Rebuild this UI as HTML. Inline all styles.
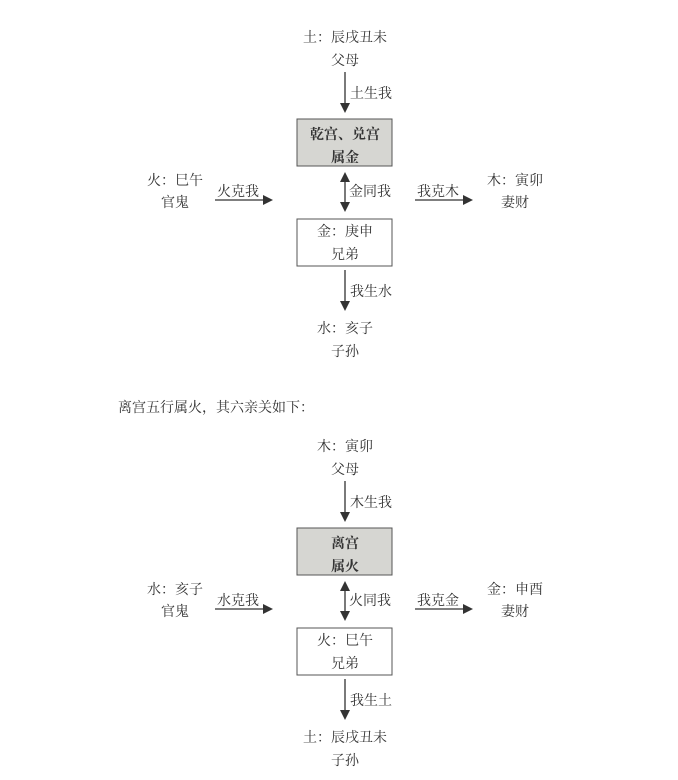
<!DOCTYPE html>
<html><head><meta charset="utf-8">
<style>
html,body{margin:0;padding:0;background:#fff;}
svg{display:block;}
text{font-family:"Noto Serif CJK SC","Liberation Serif","Noto Sans CJK SC",serif;font-size:14px;fill:#333;}
</style></head>
<body>
<svg width="678" height="780" viewBox="0 0 678 780" xmlns="http://www.w3.org/2000/svg">
<defs>
<g id="arrows" stroke="#333" stroke-width="1.3" fill="#333">
  <line x1="345" y1="72" x2="345" y2="104"/>
  <polygon points="340,103 350,103 345,113" stroke="none"/>
  <line x1="345" y1="180" x2="345" y2="204"/>
  <polygon points="340,182 350,182 345,172" stroke="none"/>
  <polygon points="340,202 350,202 345,212" stroke="none"/>
  <line x1="345" y1="270" x2="345" y2="302"/>
  <polygon points="340,301 350,301 345,311" stroke="none"/>
  <line x1="215" y1="200" x2="264" y2="200"/>
  <polygon points="263,195 263,205 273,200" stroke="none"/>
  <line x1="415" y1="200" x2="464" y2="200"/>
  <polygon points="463,195 463,205 473,200" stroke="none"/>
  <rect x="297" y="219" width="95" height="47" fill="#fff" stroke="#555" stroke-width="1"/>
</g>
</defs>

<rect x="297" y="119" width="95" height="47" fill="#d6d6d2" stroke="#555" stroke-width="1"/>
<use href="#arrows"/>
<text x="345" y="42" text-anchor="middle">土：辰戌丑未</text>
<text x="345" y="65" text-anchor="middle">父母</text>
<text x="350" y="98">土生我</text>
<text x="345" y="139" text-anchor="middle" font-weight="bold">乾宫、兑宫</text>
<text x="345" y="162" text-anchor="middle" font-weight="bold">属金</text>
<text x="349" y="196">金同我</text>
<text x="175" y="185" text-anchor="middle">火：巳午</text>
<text x="175" y="207" text-anchor="middle">官鬼</text>
<text x="217" y="196">火克我</text>
<text x="417" y="196">我克木</text>
<text x="515" y="185" text-anchor="middle">木：寅卯</text>
<text x="515" y="207" text-anchor="middle">妻财</text>
<text x="345" y="236" text-anchor="middle">金：庚申</text>
<text x="345" y="259" text-anchor="middle">兄弟</text>
<text x="350" y="296">我生水</text>
<text x="345" y="333" text-anchor="middle">水：亥子</text>
<text x="345" y="356" text-anchor="middle">子孙</text>

<text x="118" y="412">离宫五行属火，其六亲关如下：</text>

<g transform="translate(0,409)">
<rect x="297" y="119" width="95" height="47" fill="#d6d6d2" stroke="#555" stroke-width="1"/>
<use href="#arrows"/>
<text x="345" y="42" text-anchor="middle">木：寅卯</text>
<text x="345" y="65" text-anchor="middle">父母</text>
<text x="350" y="98">木生我</text>
<text x="345" y="139" text-anchor="middle" font-weight="bold">离宫</text>
<text x="345" y="162" text-anchor="middle" font-weight="bold">属火</text>
<text x="349" y="196">火同我</text>
<text x="175" y="185" text-anchor="middle">水：亥子</text>
<text x="175" y="207" text-anchor="middle">官鬼</text>
<text x="217" y="196">水克我</text>
<text x="417" y="196">我克金</text>
<text x="515" y="185" text-anchor="middle">金：申酉</text>
<text x="515" y="207" text-anchor="middle">妻财</text>
<text x="345" y="236" text-anchor="middle">火：巳午</text>
<text x="345" y="259" text-anchor="middle">兄弟</text>
<text x="350" y="296">我生土</text>
<text x="345" y="333" text-anchor="middle">土：辰戌丑未</text>
<text x="345" y="356" text-anchor="middle">子孙</text>
</g>
</svg>
</body></html>
